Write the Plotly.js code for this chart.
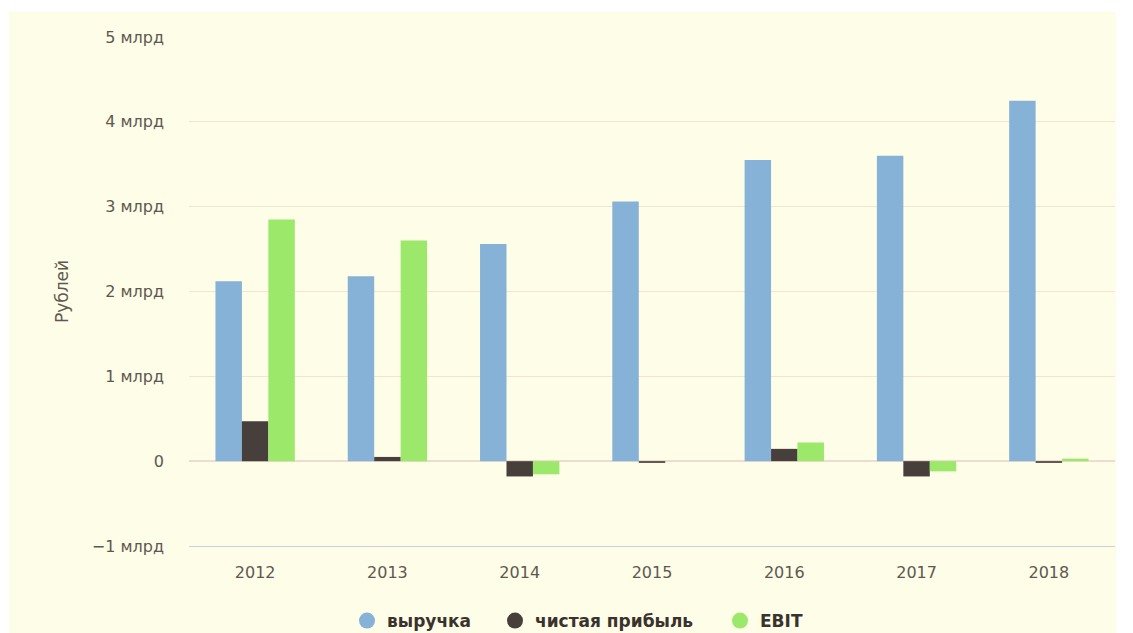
<!DOCTYPE html>
<html>
<head>
<meta charset="utf-8">
<script src="https://cdn.plot.ly/plotly-3.0.1.min.js"></script>
<style>html,body{margin:0;padding:0;background:#fff;}#chart{width:1133px;height:633px;}</style>
</head>
<body>
<div id="chart"></div>
<script>
const years = ["2012", "2013", "2014", "2015", "2016", "2017", "2018"];
const revenue = [2.12e9, 2.18e9, 2.56e9, 3.06e9, 3.55e9, 3.60e9, 4.25e9];
const netProfit = [0.47e9, 0.05e9, -0.18e9, -0.02e9, 0.145e9, -0.18e9, -0.02e9];
const ebit = [2.85e9, 2.60e9, -0.155e9, null, 0.22e9, -0.12e9, 0.03e9];
const seriesNames = ["выручка", "чистая прибыль", "EBIT"];
const seriesColors = ["#85b2d6", "#463f3b", "#9be86b"];
const yTickVals = [-1e9, 0, 1e9, 2e9, 3e9, 4e9, 5e9];
const yTickText = ["−1 млрд", "0", "1 млрд", "2 млрд", "3 млрд", "4 млрд", "5 млрд"];

const seriesData = [revenue, netProfit, ebit];
const legendIds = ["legend", "legend2", "legend3"];
const legendLeftPx = [347, 495, 720];
const traces = [];
seriesData.forEach((vals, i) => {
  traces.push({
    type: "bar", x: years, y: vals, name: seriesNames[i],
    marker: {color: seriesColors[i], line: {width: 0}},
    showlegend: false, hoverinfo: "x+y+name"
  });
});
seriesData.forEach((vals, i) => {
  traces.push({
    type: "scatter", mode: "markers", x: [null], y: [null], name: seriesNames[i],
    marker: {color: seriesColors[i], size: 17, symbol: "circle"},
    showlegend: true, legend: legendIds[i], hoverinfo: "skip"
  });
});

const fontFam = "DejaVu Sans, Verdana, sans-serif";
const W = 1133, H = 633;
function legendCfg(i) {
  return {
    orientation: "h", xref: "container", yref: "container",
    x: legendLeftPx[i] / W, xanchor: "left", y: 12 / H, yanchor: "middle",
    font: {family: fontFam, size: 17, color: "#3a322d", weight: "bold"},
    bgcolor: "rgba(0,0,0,0)", borderwidth: 0
  };
}
const layout = {
  width: W, height: H,
  paper_bgcolor: "#ffffff",
  plot_bgcolor: "rgba(0,0,0,0)",
  margin: {l: 189, r: 18, t: 37, b: 87},
  barmode: "group", bargap: 0.4, bargroupgap: 0,
  font: {family: fontFam, size: 16, color: "#605850"},
  showlegend: true,
  legend: legendCfg(0), legend2: legendCfg(1), legend3: legendCfg(2),
  xaxis: {
    type: "category", showgrid: false, showline: true, linecolor: "#ccd0dc", linewidth: 1,
    ticks: "", ticklabelstandoff: 12, tickfont: {size: 16, color: "#605850"}
  },
  yaxis: {
    range: [-1e9, 5e9], tickvals: yTickVals, ticktext: yTickText,
    showgrid: true, gridcolor: "#f0e4d6", gridwidth: 1,
    zeroline: true, zerolinecolor: "#efdcd0", zerolinewidth: 1.5,
    showline: false, ticks: "", ticklabelstandoff: 24,
    tickfont: {size: 16, color: "#605850"},
    title: {text: "Рублей", font: {size: 17, color: "#605850"}, standoff: 18},
    automargin: false
  },
  shapes: [{
    type: "rect", xref: "paper", yref: "paper", layer: "below",
    x0: -0.1944, x1: 1.001, y0: -0.175, y1: 1.0502,
    fillcolor: "#fefde8", line: {width: 0}
  }]
};
Plotly.newPlot("chart", traces, layout, {displayModeBar: false, staticPlot: true});
</script>
</body>
</html>
